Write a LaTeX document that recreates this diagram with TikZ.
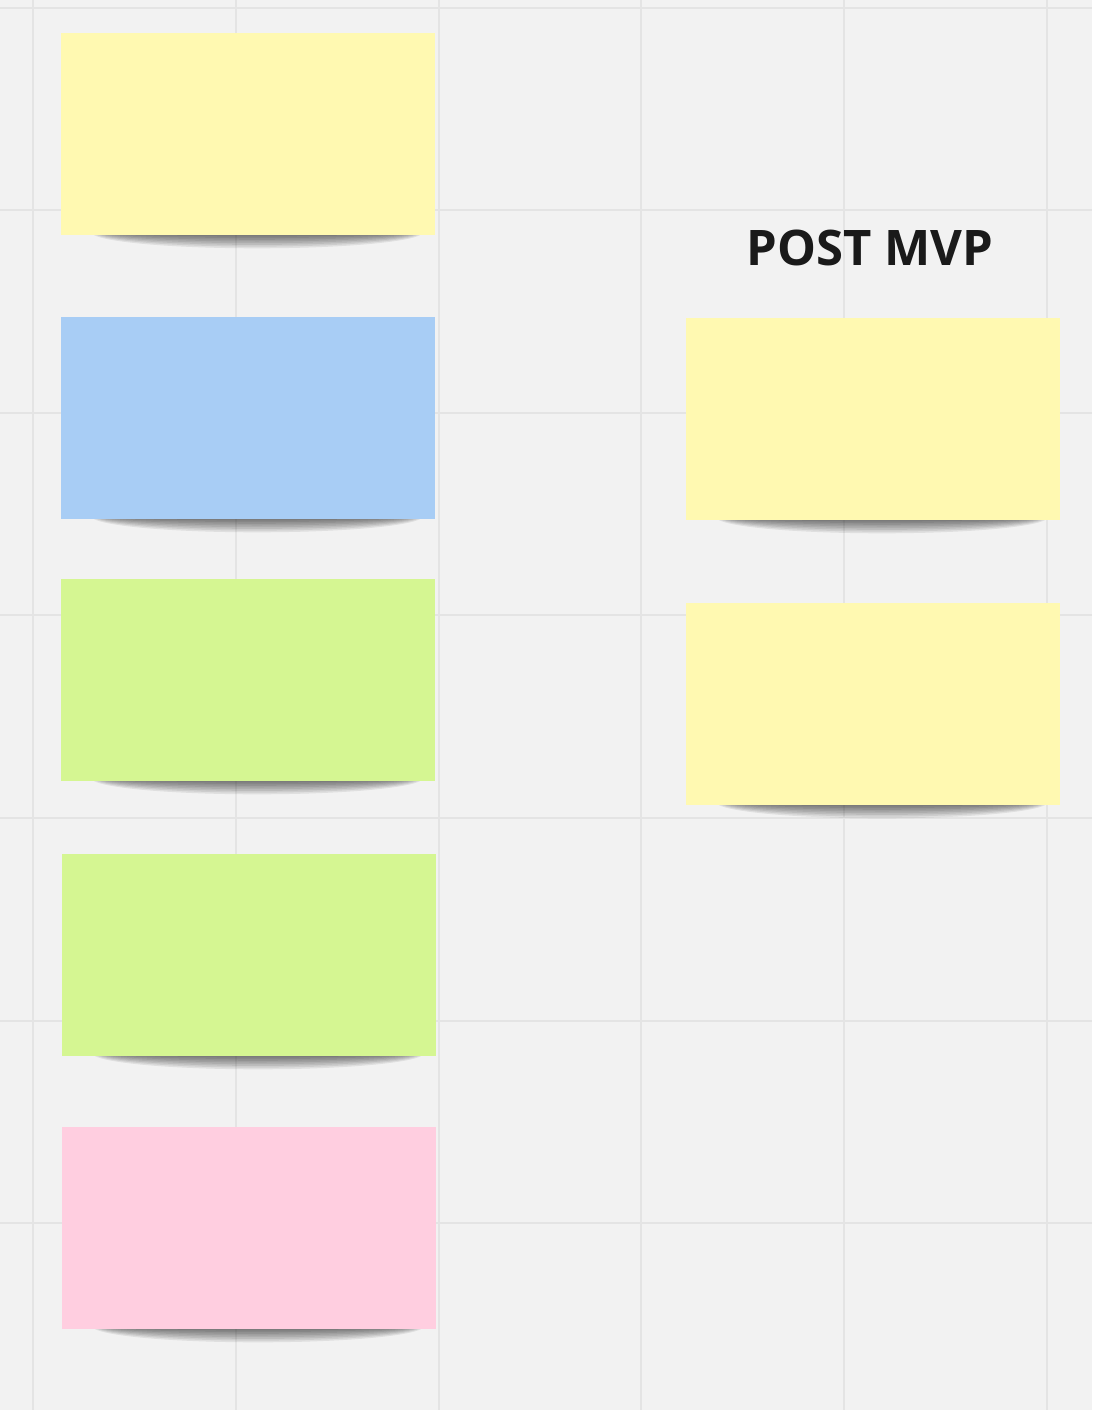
\documentclass[tikz,border=0pt]{standalone}
\usepackage{fontspec}
\setmainfont{Open Sans}
\definecolor{board}{HTML}{F2F2F2}
\definecolor{gridline}{HTML}{E4E4E4}
\definecolor{noteyellow}{HTML}{FFF9B1}
\definecolor{noteblue}{HTML}{A8CDF5}
\definecolor{notegreen}{HTML}{D5F692}
\definecolor{notepink}{HTML}{FFCEE0}
\definecolor{titletext}{HTML}{1A1A1A}
\tikzset{
	note/.style={anchor=north west,minimum width=374pt,minimum height=202pt,inner sep=0pt,outer sep=0pt},
	heading/.style={font=\fontsize{49}{58}\selectfont\bfseries,text=titletext}
}
\begin{document}
\begin{tikzpicture}[x=1pt,y=-1pt]
			\fill[board] (0,0) rectangle (1092,1410);
			\useasboundingbox (0,0) rectangle (1092,1410);
			% grid
			\foreach \k in {0,...,5}
			\draw[gridline,line width=2pt] ({33+202.8*\k},0)--({33+202.8*\k},1410);
			\foreach \k in {0,...,6}
			\draw[gridline,line width=2pt] (0,{7.6+202.6*\k})--(1092,{7.6+202.6*\k});
			% notes
			\foreach \nm/\x/\y/\col in {yellowA/61/33/noteyellow,
				blueA/61/317/noteblue,
				greenA/61/579/notegreen,
				greenB/62/854/notegreen,
				pinkA/62/1127/notepink,
				yellowB/686/318/noteyellow,
				yellowC/686/603/noteyellow}
			{
			\foreach \i in {1,...,9}
			\fill[black,opacity=0.08] ({\x+196},{\y+199}) ellipse ({148+2*\i} and {1+1.7*\i});
			\node[note,fill=\col] (\nm) at (\x,\y) {};
			}
			\node[heading] (post) at (870,248) {POST MVP};
\end{tikzpicture}
\end{document}
